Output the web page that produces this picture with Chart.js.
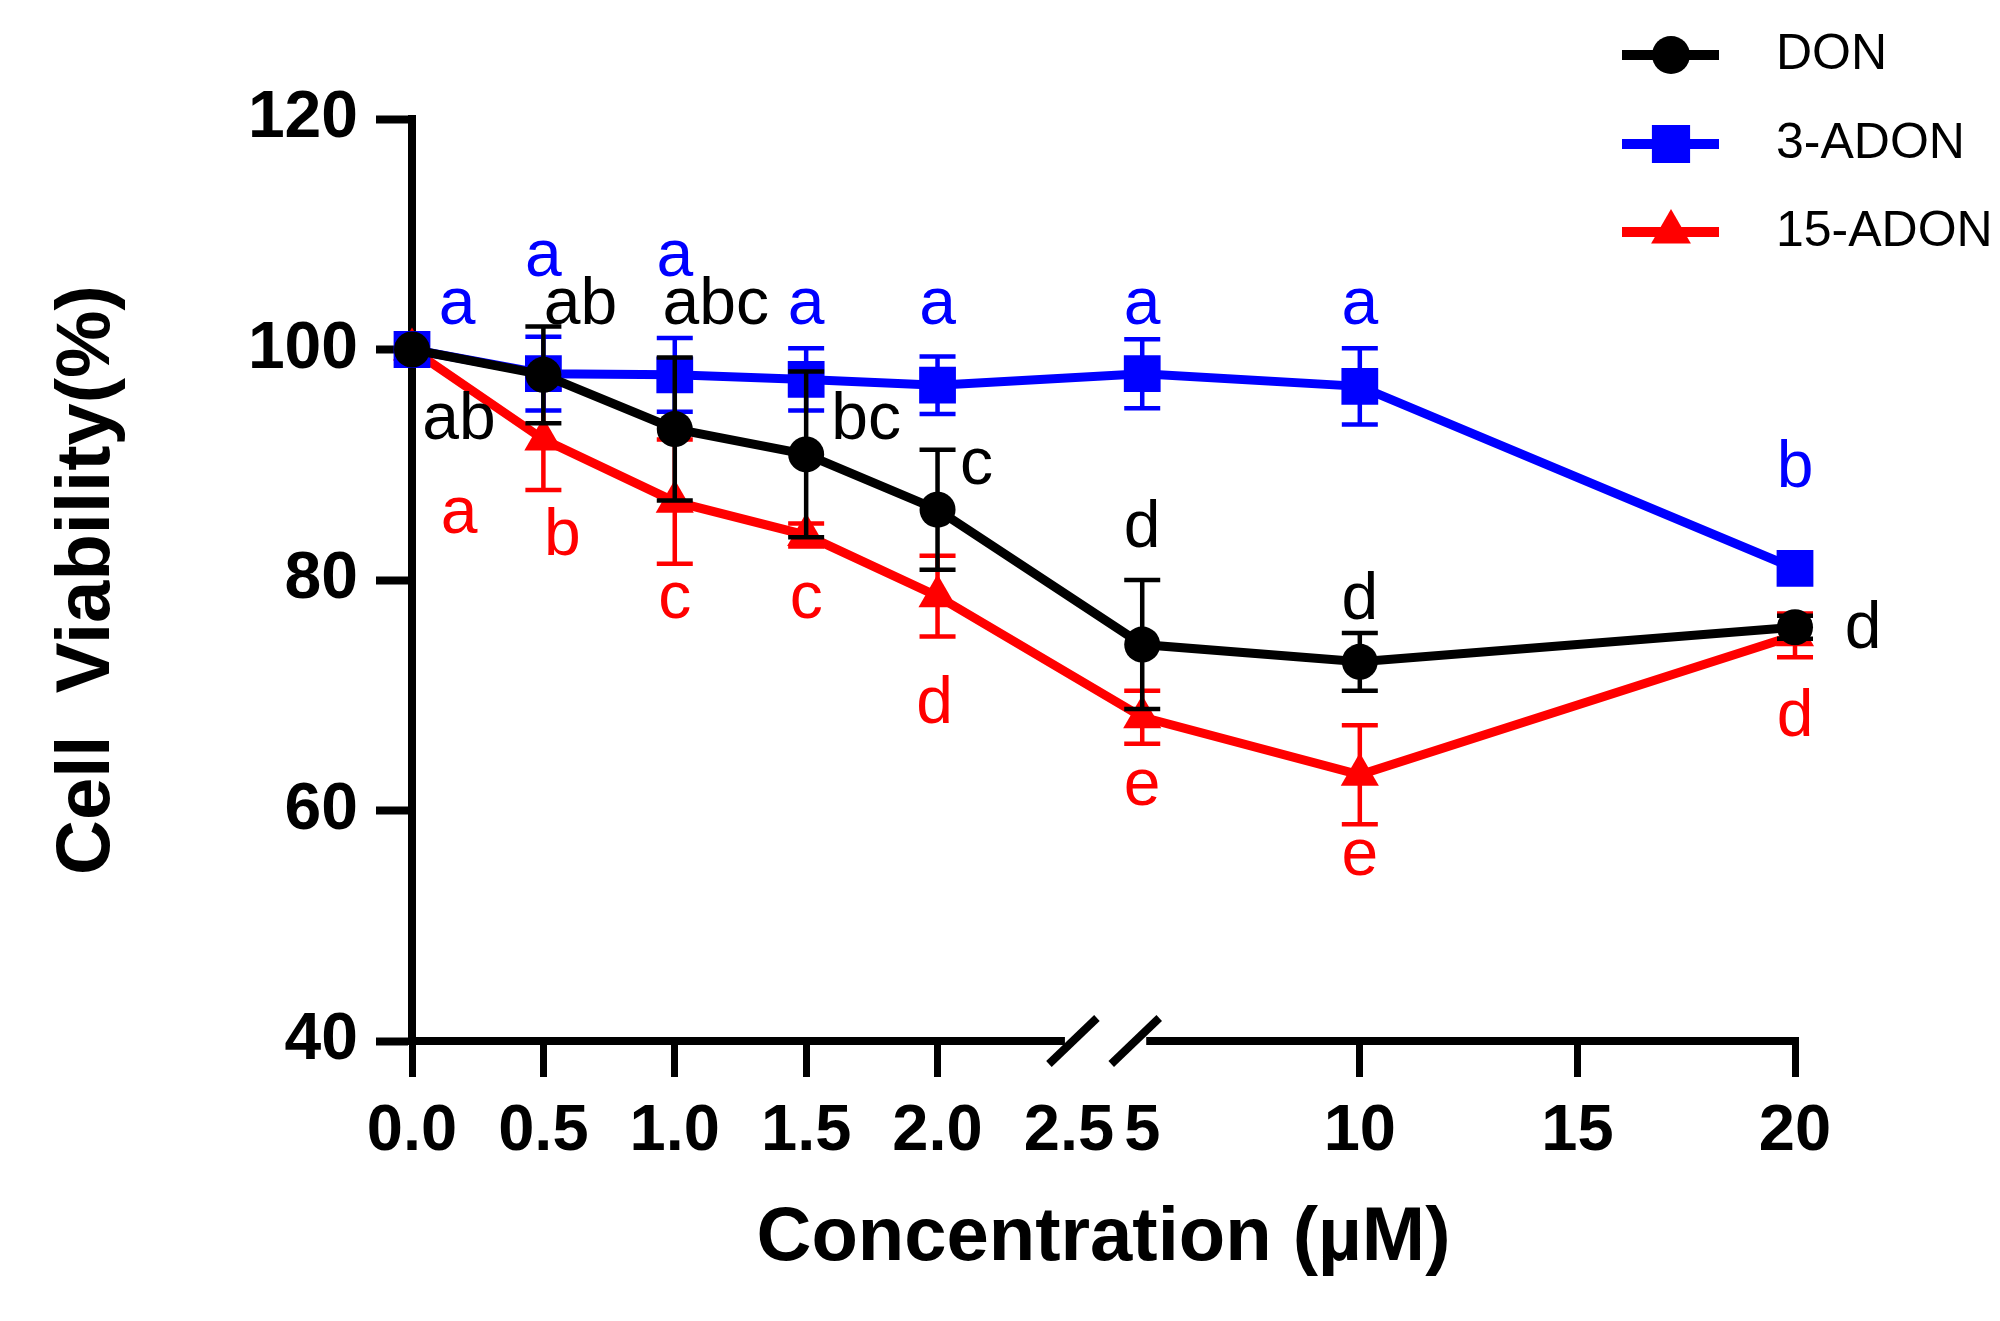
<!DOCTYPE html>
<html>
<head>
<meta charset="utf-8">
<script src="https://cdn.jsdelivr.net/npm/chart.js@4.4.1/dist/chart.umd.min.js"></script>
<style>
  html, body { margin: 0; padding: 0; background: #fff; }
  canvas { display: block; }
</style>
</head>
<body>
<canvas id="viabilityChart" width="2000" height="1321"></canvas>
<script>
// concentrations (µM) and mean cell viability (%) with error
const concentrations = [0, 0.5, 1, 1.5, 2, 5, 10, 20];
const donMean = [100, 97.8, 93.1, 90.9, 86.1, 74.4, 72.9, 75.9];
const donErr = [0, 4.2, 6.2, 7.2, 5.2, 5.6, 2.5, 1.0];
const adon3Mean = [100, 97.9, 97.8, 97.4, 96.9, 97.9, 96.8, 81.0];
const adon3Err = [0, 3.2, 3.2, 2.7, 2.5, 3.0, 3.3, 0.8];
const adon15Mean = [100, 92.2, 86.8, 83.9, 78.6, 68.1, 63.1, 75.2];
const adon15Err = [0, 4.4, 5.4, 1.0, 3.5, 2.3, 4.3, 1.9];

// significance letters
const donLetters = ['ab', 'ab', 'abc', 'bc', 'c', 'd', 'd', 'd'];
const adon3Letters = ['a', 'a', 'a', 'a', 'a', 'a', 'a', 'b'];
const adon15Letters = ['a', 'b', 'c', 'c', 'd', 'e', 'e', 'd'];

const xTicks = [0, 0.5, 1, 1.5, 2, 2.5, 5, 10, 15, 20];
const xTickLabels = ['0.0', '0.5', '1.0', '1.5', '2.0', '2.5', '5', '10', '15', '20'];
const yTicks = [40, 60, 80, 100, 120];

// letter placement: baseline level (in %) and horizontal shift (px)
const donLetterY = [92.2, 102.2, 102.2, 92.2, 88.3, 82.9, 76.6, 74.1];
const donLetterDx = [47, 37, 41, 60, 39, 0, 0, 68];
const adon3LetterY = [102.2, 106.4, 106.4, 102.2, 102.2, 102.2, 102.2, 88.1];
const adon3LetterDx = [45, 0, 0, 0, 0, 0, 0, 0];
const adon15LetterY = [84.1, 82.2, 76.7, 76.7, 67.6, 60.5, 54.4, 66.5];
const adon15LetterDx = [47, 19, 0, 0, -3, 0, 0, 0];

const FONT = "'Liberation Sans', Arial, sans-serif";

// axis break between 2.5 and 5
const BREAK_FROM = 2.5, BREAK_TO = 5;
const LEFT_FRAC = 0.475, RIGHT_FRAC = 0.528;

function brokenFraction(v, min, max) {
  if (v <= BREAK_FROM) return (v - min) / (BREAK_FROM - min) * LEFT_FRAC;
  if (v >= BREAK_TO) return RIGHT_FRAC + (v - BREAK_TO) / (max - BREAK_TO) * (1 - RIGHT_FRAC);
  return LEFT_FRAC + (v - BREAK_FROM) / (BREAK_TO - BREAK_FROM) * (RIGHT_FRAC - LEFT_FRAC);
}

class BrokenLinearScale extends Chart.LinearScale {
  getPixelForValue(value) {
    if (value === null || value === undefined) return NaN;
    return this.getPixelForDecimal(brokenFraction(value, this.min, this.max));
  }
  getValueForPixel(pixel) {
    const d = this.getDecimalForPixel(pixel);
    if (d <= LEFT_FRAC) return this.min + d / LEFT_FRAC * (BREAK_FROM - this.min);
    return BREAK_TO + (d - RIGHT_FRAC) / (1 - RIGHT_FRAC) * (this.max - BREAK_TO);
  }
}
BrokenLinearScale.id = 'brokenLinear';
BrokenLinearScale.defaults = Chart.LinearScale.defaults;
Chart.register(BrokenLinearScale);

function points(means) {
  return concentrations.map((c, i) => ({ x: c, y: means[i] }));
}

const series = [
  { label: 'DON', mean: donMean, err: donErr, letters: donLetters, ly: donLetterY, ldx: donLetterDx,
    color: '#000000', style: 'circle', radius: 18, legendRadius: 19 },
  { label: '3-ADON', mean: adon3Mean, err: adon3Err, letters: adon3Letters, ly: adon3LetterY, ldx: adon3LetterDx,
    color: '#0000ff', style: 'rect', radius: 26, legendRadius: 27 },
  { label: '15-ADON', mean: adon15Mean, err: adon15Err, letters: adon15Letters, ly: adon15LetterY, ldx: adon15LetterDx,
    color: '#ff0000', style: 'triangle', radius: 22, legendRadius: 23 }
];

const errorBars = {
  id: 'errorBars',
  beforeDatasetDraw(chart, args) {
    const s = series[args.index];
    const { ctx, scales: { x, y } } = chart;
    ctx.save();
    ctx.strokeStyle = s.color;
    ctx.lineWidth = 4.5;
    concentrations.forEach((c, i) => {
      if (!s.err[i]) return;
      const px = x.getPixelForValue(c);
      const top = y.getPixelForValue(s.mean[i] + s.err[i]);
      const bot = y.getPixelForValue(s.mean[i] - s.err[i]);
      ctx.beginPath();
      ctx.moveTo(px, top); ctx.lineTo(px, bot);
      ctx.moveTo(px - 18, top); ctx.lineTo(px + 18, top);
      ctx.moveTo(px - 18, bot); ctx.lineTo(px + 18, bot);
      ctx.stroke();
    });
    ctx.restore();
  }
};

const annotations = {
  id: 'annotations',
  afterDatasetsDraw(chart) {
    const { ctx, scales: { x, y } } = chart;
    ctx.save();
    ctx.font = '66px ' + FONT;
    ctx.textAlign = 'center';
    ctx.textBaseline = 'alphabetic';
    series.forEach(s => {
      ctx.fillStyle = s.color;
      s.letters.forEach((t, i) => {
        ctx.fillText(t, x.getPixelForValue(concentrations[i]) + s.ldx[i], y.getPixelForValue(s.ly[i]));
      });
    });
    ctx.restore();
  }
};

const brokenAxis = {
  id: 'brokenAxis',
  afterDraw(chart) {
    const { ctx, chartArea, scales: { x } } = chart;
    const yb = chartArea.bottom;
    const p1 = x.getPixelForValue(BREAK_FROM);
    const p2 = x.getPixelForValue(BREAK_TO);
    ctx.save();
    ctx.strokeStyle = '#000';
    ctx.lineWidth = 8;
    ctx.lineCap = 'butt';
    ctx.beginPath();
    ctx.moveTo(chartArea.left - 4, yb); ctx.lineTo(p1 - 4, yb);
    ctx.moveTo(p2 + 4, yb); ctx.lineTo(chartArea.right + 4, yb);
    ctx.stroke();
    [p1 + 4, p2 - 7].forEach(cx => {
      ctx.beginPath();
      ctx.moveTo(cx - 24, yb + 23);
      ctx.lineTo(cx + 24, yb - 23);
      ctx.stroke();
    });
    ctx.restore();
  }
};

const legendBox = {
  id: 'legendBox',
  afterDraw(chart) {
    const { ctx } = chart;
    const rows = [55, 144, 232];
    ctx.save();
    series.forEach((s, i) => {
      const yy = rows[i];
      ctx.strokeStyle = s.color;
      ctx.fillStyle = s.color;
      ctx.lineWidth = 10;
      ctx.beginPath();
      ctx.moveTo(1622, yy); ctx.lineTo(1719, yy);
      ctx.stroke();
      Chart.helpers.drawPoint(ctx, { pointStyle: s.style, radius: s.legendRadius, rotation: 0, borderWidth: 0 }, 1671, yy);
      ctx.fillStyle = '#000';
      ctx.font = '50px ' + FONT;
      ctx.textAlign = 'left';
      ctx.textBaseline = 'middle';
      ctx.fillText(s.label, 1776, yy);
    });
    ctx.restore();
  }
};

new Chart(document.getElementById('viabilityChart'), {
  type: 'line',
  data: {
    datasets: series.map(s => ({
      label: s.label,
      data: points(s.mean),
      borderColor: s.color,
      backgroundColor: s.color,
      borderWidth: 9,
      tension: 0,
      pointStyle: s.style,
      pointRadius: s.radius,
      pointBackgroundColor: s.color,
      pointBorderColor: s.color,
      pointBorderWidth: 0,
      clip: false
    }))
  },
  options: {
    responsive: false,
    devicePixelRatio: 1,
    animation: false,
    events: [],
    layout: { padding: { left: 0, top: 119, right: 205, bottom: 0 } },
    plugins: { legend: { display: false }, tooltip: { enabled: false } },
    scales: {
      x: {
        type: 'brokenLinear',
        min: 0,
        max: 20,
        afterFit(scale) { scale.height = 280; },
        afterBuildTicks(scale) { scale.ticks = xTicks.map(v => ({ value: v })); },
        border: { display: false },
        grid: {
          drawOnChartArea: false,
          drawTicks: true,
          tickLength: 36,
          tickWidth: 7,
          tickColor: ctx => (ctx.tick && (ctx.tick.value === BREAK_FROM || ctx.tick.value === BREAK_TO)) ? 'rgba(0,0,0,0)' : '#000'
        },
        ticks: {
          autoSkip: false,
          maxRotation: 0,
          minRotation: 0,
          padding: 16,
          color: '#000',
          font: { family: FONT, size: 65, weight: 'bold' },
          callback: (v, i) => xTickLabels[i]
        },
        title: {
          display: true,
          text: 'Concentration (µM)',
          color: '#000',
          font: { family: FONT, size: 76, weight: 'bold' },
          padding: { top: 0, bottom: 36 }
        }
      },
      y: {
        min: 40,
        max: 120,
        afterFit(scale) { scale.width = 412; },
        afterBuildTicks(scale) { scale.ticks = yTicks.map(v => ({ value: v })); },
        border: { display: true, color: '#000', width: 8 },
        grid: {
          drawOnChartArea: false,
          drawTicks: true,
          tickLength: 36,
          tickWidth: 8,
          tickColor: '#000'
        },
        ticks: {
          padding: 18,
          color: '#000',
          font: { family: FONT, size: 66, weight: 'bold' }
        },
        title: {
          display: true,
          text: 'Cell  Viability(%)',
          color: '#000',
          font: { family: FONT, size: 76, weight: 'bold' },
          padding: { top: 42, bottom: 0 }
        }
      }
    }
  },
  plugins: [errorBars, annotations, brokenAxis, legendBox]
});
</script>
</body>
</html>
